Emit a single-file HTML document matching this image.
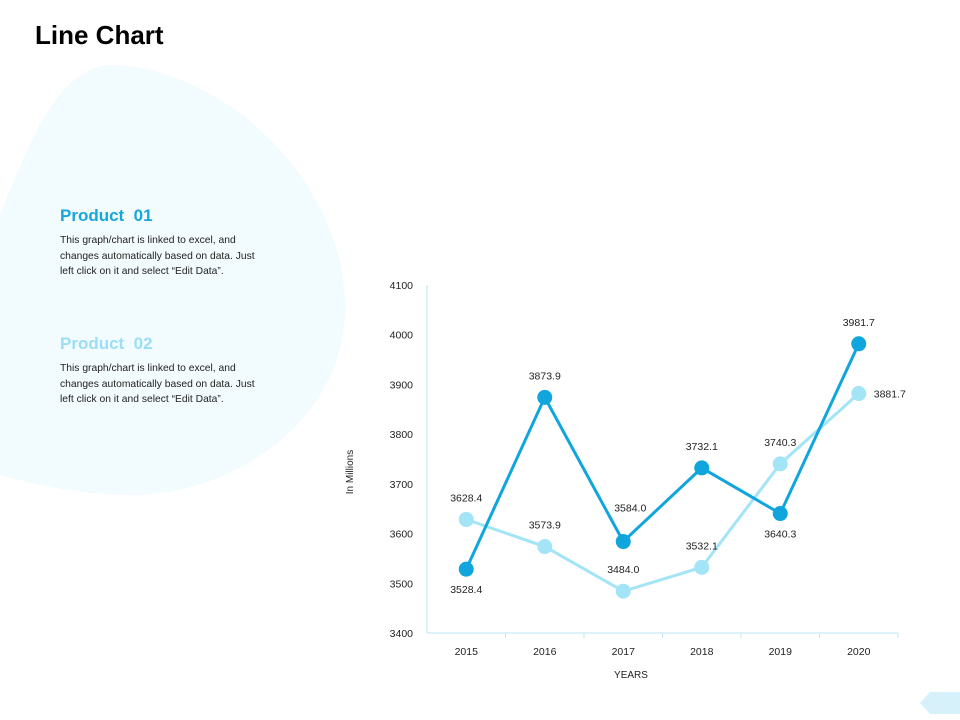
<!DOCTYPE html>
<html><head><meta charset="utf-8"><style>
body{margin:0;width:960px;height:720px;background:#fff;font-family:"Liberation Sans",sans-serif;overflow:hidden;position:relative}
.title{position:absolute;left:35px;top:20px;font-size:26px;font-weight:bold;color:#000}
.ph{position:absolute;left:60px;font-size:17px;font-weight:bold}
.pt{position:absolute;left:60px;white-space:nowrap;font-size:10.3px;line-height:15.5px;color:#222}
</style></head><body>
<svg width="960" height="720" style="position:absolute;left:0;top:0">
<path d="M0,215 C30,140 60,60 120,65 C230,75 340,180 345,300 C350,420 230,500 120,495 C60,492 20,480 0,475 Z" fill="#f2fbfe"/>
<path d="M930,692 L960,692 L960,714 L930,714 L920,703 Z" fill="#d7f1fb"/>
</svg>
<div class="title">Line Chart</div>
<div class="ph" style="top:206px;color:#16a7dd">Product&nbsp; 01</div>
<div class="pt" style="top:233px">This graph/chart is linked to excel, and<br>changes automatically based on data. Just<br>left click on it and select “Edit Data”.</div>
<div class="ph" style="top:334px;color:#9adff5">Product&nbsp; 02</div>
<div class="pt" style="top:361px">This graph/chart is linked to excel, and<br>changes automatically based on data. Just<br>left click on it and select “Edit Data”.</div>
<svg id="chart" width="960" height="720" style="position:absolute;left:0;top:0"></svg>
<script>
const categories=["2015","2016","2017","2018","2019","2020"];
const product01=[3528.4,3873.9,3584.0,3732.1,3640.3,3981.7];
const product02=[3628.4,3573.9,3484.0,3532.1,3740.3,3881.7];
const yTicks=[3400,3500,3600,3700,3800,3900,4000,4100];
const NS="http://www.w3.org/2000/svg";
const svg=document.getElementById('chart');
const x0=427,x1=898,yTop=285,yBot=633,yMin=3400,yMax=4100;
const bw=(x1-x0)/categories.length;
const xs=i=>x0+bw*(i+0.5);
const ys=v=>yBot-(v-yMin)/(yMax-yMin)*(yBot-yTop);
function el(t,a){const e=document.createElementNS(NS,t);for(const k in a)e.setAttribute(k,a[k]);svg.appendChild(e);return e;}
function txt(x,y,s,anchor,size){const t=el('text',{x:x,y:y,'font-size':size||11,'text-anchor':anchor||'middle',fill:'#222','font-family':'Liberation Sans, sans-serif'});t.textContent=s;return t;}
const ya=el('line',{x1:x0,y1:yTop,x2:x0,y2:yBot,stroke:'#bde6f6','stroke-width':1});


const xa=el('line',{x1:x0,y1:yBot,x2:x1,y2:yBot,stroke:'#bde6f6','stroke-width':1});


yTicks.forEach(v=>{const t=txt(413,ys(v)+4,String(v),'end',10.5);

});
categories.forEach((c,i)=>{
const tk=el('line',{x1:x0+bw*(i+1),y1:yBot,x2:x0+bw*(i+1),y2:yBot+5,stroke:'#bde6f6'});


const t=txt(xs(i),655,c,'middle',10.5);

});
const xt=txt(631,678,'YEARS','middle',10);


const yt=txt(0,0,'In Millions','middle',10);
yt.setAttribute('transform','translate(353,472) rotate(-90)');


function series(vals,color,name,labelPos){
const p=el('polyline',{points:vals.map((v,i)=>xs(i)+','+ys(v)).join(' '),fill:'none',stroke:color,'stroke-width':3});


vals.forEach((v,i)=>{
const c=el('circle',{cx:xs(i),cy:ys(v),r:7.5,fill:color});


const pos=labelPos[i];let lx=xs(i),ly=ys(v),a='middle';
if(pos==='a')ly-=18;else if(pos==='b')ly+=24;else if(pos==='h'){ly-=30;lx+=7;}else{lx+=15;ly+=4;a='start';}
const t=txt(lx,ly,v.toFixed(1),a,10.5);

});}
series(product02,'#a3e4f7','product-02',['a','a','a','a','a','r']);
series(product01,'#10a5dd','product-01',['b','a','h','a','b','a']);
</script>
</body></html>
